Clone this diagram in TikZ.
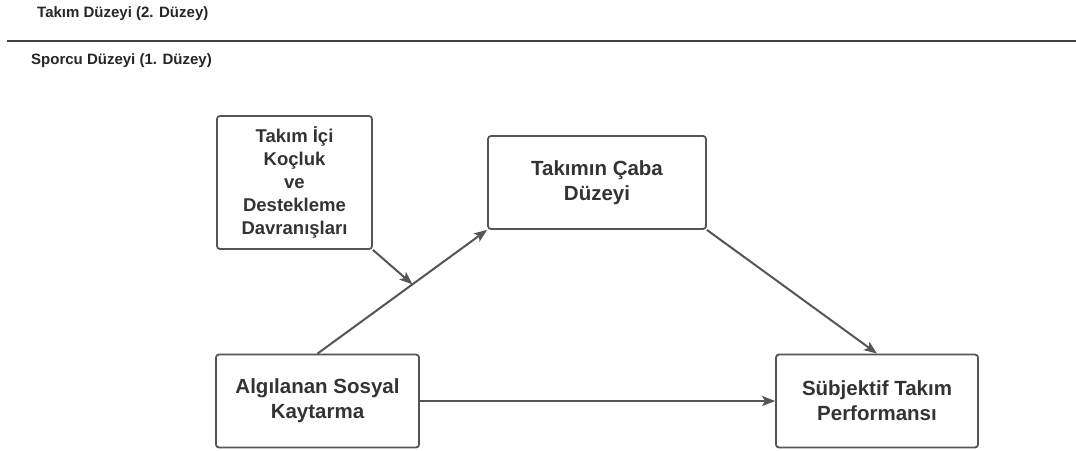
\documentclass[tikz,border=0pt]{standalone}
\usepackage{fontspec}
\setmainfont{Liberation Sans}
\usetikzlibrary{arrows.meta}
\definecolor{linegray}{HTML}{555555}
\definecolor{textgray}{HTML}{333333}
\tikzset{
	kutu/.style={draw=linegray, line width=1.8pt, rounded corners=3pt, align=center,
		font=\fontsize{20.5}{25}\selectfont\bfseries, text=textgray, inner sep=0pt},
	ok/.style={draw=linegray, line width=2pt, -{Stealth[length=13pt,width=10pt,inset=3pt]}},
	baslik/.style={anchor=west, font=\fontsize{15}{18}\selectfont\bfseries, text=black!85, inner sep=0pt}
}

\begin{document}
\begin{tikzpicture}[x=1pt,y=-1pt]
			%%%%% START %%%%%
			\useasboundingbox (0,0) rectangle (1076,450);
			
			\node[baslik] (takim) at (37, 14) {Takım Düzeyi (2. Düzey)};
			\draw[line width=2pt, draw=black!75] (7, 41) -- (1076, 41);
			\node[baslik] (sporcu) at (31, 61) {Sporcu Düzeyi (1. Düzey)};
			
			\node[kutu, font=\fontsize{18.5}{23}\selectfont\bfseries, minimum width=155pt, minimum height=133pt] (koc) at (294.5, 182.5)
				{Takım İçi\\Koçluk\\ve\\Destekleme\\Davranışları};
			\node[kutu, minimum width=218pt, minimum height=93pt] (caba) at (597, 182.5)
				{Takımın Çaba\\Düzeyi};
			\node[kutu, minimum width=203pt, minimum height=93pt] (algi) at (317.5, 401)
				{Algılanan Sosyal\\Kaytarma};
			\node[kutu, minimum width=202pt, minimum height=93pt] (perf) at (877, 401)
				{Sübjektif Takım\\Performansı};
			
			\draw[ok] (algi.north) -- coordinate[pos=0.56] (kesisim) (caba.south west);
			\draw[ok] (koc.south east) -- (kesisim);
			\draw[ok] (caba.south east) -- (perf.north);
			\draw[ok] (algi.east) -- (perf.west);
			%%%%% END %%%%%
\end{tikzpicture}
\end{document}
